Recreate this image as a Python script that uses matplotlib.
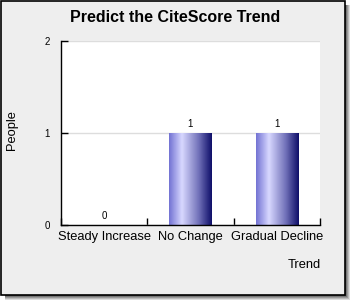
import numpy as np
import matplotlib
matplotlib.use("Agg")
from matplotlib import pyplot as plt
from matplotlib.colors import LinearSegmentedColormap
from matplotlib.patches import Rectangle

categories = ["Steady Increase", "No Change", "Gradual Decline"]
people = [0, 1, 1]
y_ticks = [0, 1, 2]

W, H = 350, 300
fig = plt.figure(figsize=(W / 100, H / 100), dpi=100)
fig.patch.set_facecolor("white")

# drop shadow (light outside -> dark near panel), then grey panel with black border
shades = ["#dddddd", "#bbbbbb", "#999999", "#777777", "#555555"]
for i, c in enumerate(shades):
    fig.patches.append(Rectangle((5 / W, i / H), (345 - i) / W, (295 - i) / H,
                                 transform=fig.transFigure, facecolor=c,
                                 edgecolor="none", zorder=-3 + i * 0.01))
fig.patches.append(Rectangle((0.5 / W, 5.5 / H), 344 / W, 294 / H,
                             transform=fig.transFigure, facecolor="#eeeeee",
                             edgecolor="black", linewidth=1.2, zorder=-2))

ax = fig.add_axes([61 / W, 1 - 225 / H, (320 - 61) / W, (225 - 41) / H])
ax.set_facecolor("white")

x = np.arange(len(categories))
bw = 0.49
cmap = LinearSegmentedColormap.from_list(
    "bar", [(0.0, "#7474d4"), (0.3, "#d8d8ff"), (0.7, "#7070b8"), (1.0, "#10106a")])
grad = np.linspace(0, 1, 64).reshape(1, -1)
for xi, v in zip(x, people):
    if v > 0:
        ax.imshow(grad, cmap=cmap, extent=[xi - bw / 2, xi + bw / 2, 0, v],
                  aspect="auto", zorder=2, interpolation="bilinear")
    ax.text(xi, v + 0.04, str(v), ha="center", va="bottom", fontsize=7,
            family="Liberation Sans")

ax.set_xlim(-0.5, len(categories) - 0.5)
ax.set_ylim(0, 2)
ax.set_yticks(y_ticks)
ax.yaxis.grid(True, color="#dddddd", linewidth=1)
ax.set_axisbelow(True)

ax.set_xticks(np.arange(len(categories) + 1) - 0.5)
ax.set_xticklabels([])
ax.set_xticks(x, minor=True)
ax.set_xticklabels(categories, minor=True, fontsize=9.3, family="Liberation Sans")
ax.tick_params(axis="x", which="major", direction="in", length=5, width=1)
ax.tick_params(axis="x", which="minor", length=0, pad=4)
ax.tick_params(axis="y", direction="in", length=5, width=1, labelsize=7, pad=8)
for lbl in ax.get_yticklabels():
    lbl.set_family("Liberation Sans")

for s in ["top", "right"]:
    ax.spines[s].set_visible(False)
for s in ["left", "bottom"]:
    ax.spines[s].set_linewidth(1)

fig.text(175 / W, 1 - 17 / H, "Predict the CiteScore Trend", ha="center",
         va="center", fontsize=11.5, fontweight="bold", family="Liberation Sans")
fig.text(12 / W, 1 - 130 / H, "People", rotation=90, ha="center", va="center",
         fontsize=9.3, family="Liberation Sans")
fig.text(304 / W, 1 - 265 / H, "Trend", ha="center", va="center",
         fontsize=9.3, family="Liberation Sans")

fig.savefig("out.png", dpi=100)
